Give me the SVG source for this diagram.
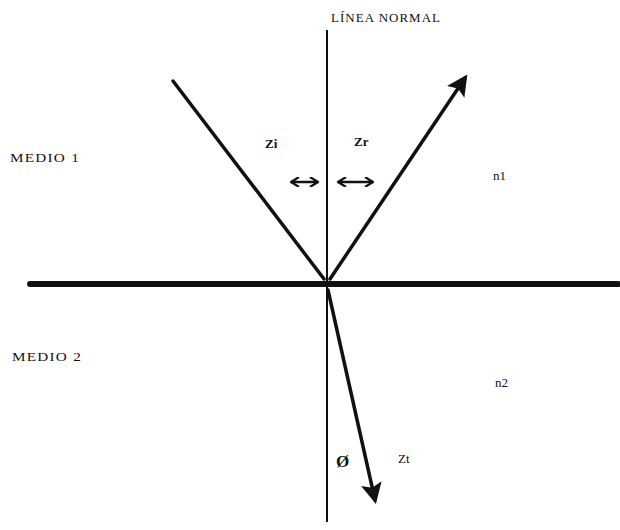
<svg xmlns="http://www.w3.org/2000/svg" width="620" height="530" viewBox="0 0 620 530">
<style>
text{font-family:"Liberation Serif","Times New Roman",serif;fill:#111}
.lbl{font-size:12px;letter-spacing:1px}
.sm{font-size:13px}
.ray{stroke:#111;stroke-width:3.5;fill:none;stroke-linecap:round}
.dbl{stroke:#111;stroke-width:2.5;fill:none}
</style>
<defs>
<marker id="ah" viewBox="0 0 10 10" refX="8" refY="5" markerWidth="6" markerHeight="6" orient="auto" markerUnits="strokeWidth">
<path d="M0,0 L10,5 L0,10 L2,5 z" fill="#111"/>
</marker>
<marker id="sa" viewBox="0 0 10 10" refX="9" refY="5" markerWidth="4" markerHeight="4" orient="auto-start-reverse" markerUnits="strokeWidth">
<path d="M1,0 L9,5 L1,10" fill="none" stroke="#111" stroke-width="2.2"/>
</marker>
</defs>
<rect width="620" height="530" fill="#fff"/>
<g id="connectors">
<line id="normal" x1="327" y1="30" x2="327" y2="522" stroke="#111" stroke-width="2"/>
<line id="interface" x1="30" y1="284" x2="618" y2="284" stroke="#111" stroke-width="6" stroke-linecap="round"/>
<line id="incident" class="ray" x1="173" y1="81" x2="324" y2="279"/>
<line id="reflected" class="ray" x1="330" y1="279" x2="465" y2="78" marker-end="url(#ah)"/>
<line id="refracted" class="ray" x1="328" y1="290" x2="375" y2="500" marker-end="url(#ah)"/>
<line class="dbl" x1="291" y1="182" x2="318" y2="182" marker-start="url(#sa)" marker-end="url(#sa)"/>
<line class="dbl" x1="338" y1="182" x2="373" y2="182" marker-start="url(#sa)" marker-end="url(#sa)"/>
</g>
<g id="label-normal"><text class="lbl" x="331" y="22" textLength="110" lengthAdjust="spacingAndGlyphs">LÍNEA NORMAL</text></g>
<g id="medio1"><text class="lbl" x="10" y="162" textLength="70" lengthAdjust="spacingAndGlyphs">MEDIO 1</text></g>
<g id="medio2"><text class="lbl" x="12" y="361" textLength="70" lengthAdjust="spacingAndGlyphs">MEDIO 2</text></g>
<g id="n1"><text class="sm" x="493" y="180">n1</text></g>
<g id="n2"><text class="sm" x="495" y="387">n2</text></g>
<g id="angle-i"><text class="sm" x="265" y="148" font-weight="bold">Zi</text></g>
<g id="angle-r"><text class="sm" x="354" y="146" font-weight="bold">Zr</text></g>
<g id="angle-t"><text class="sm" x="398" y="463">Zt</text></g>
<g id="phi"><text x="336" y="467" style="font-size:17px;font-weight:bold">Ø</text></g>
</svg>
